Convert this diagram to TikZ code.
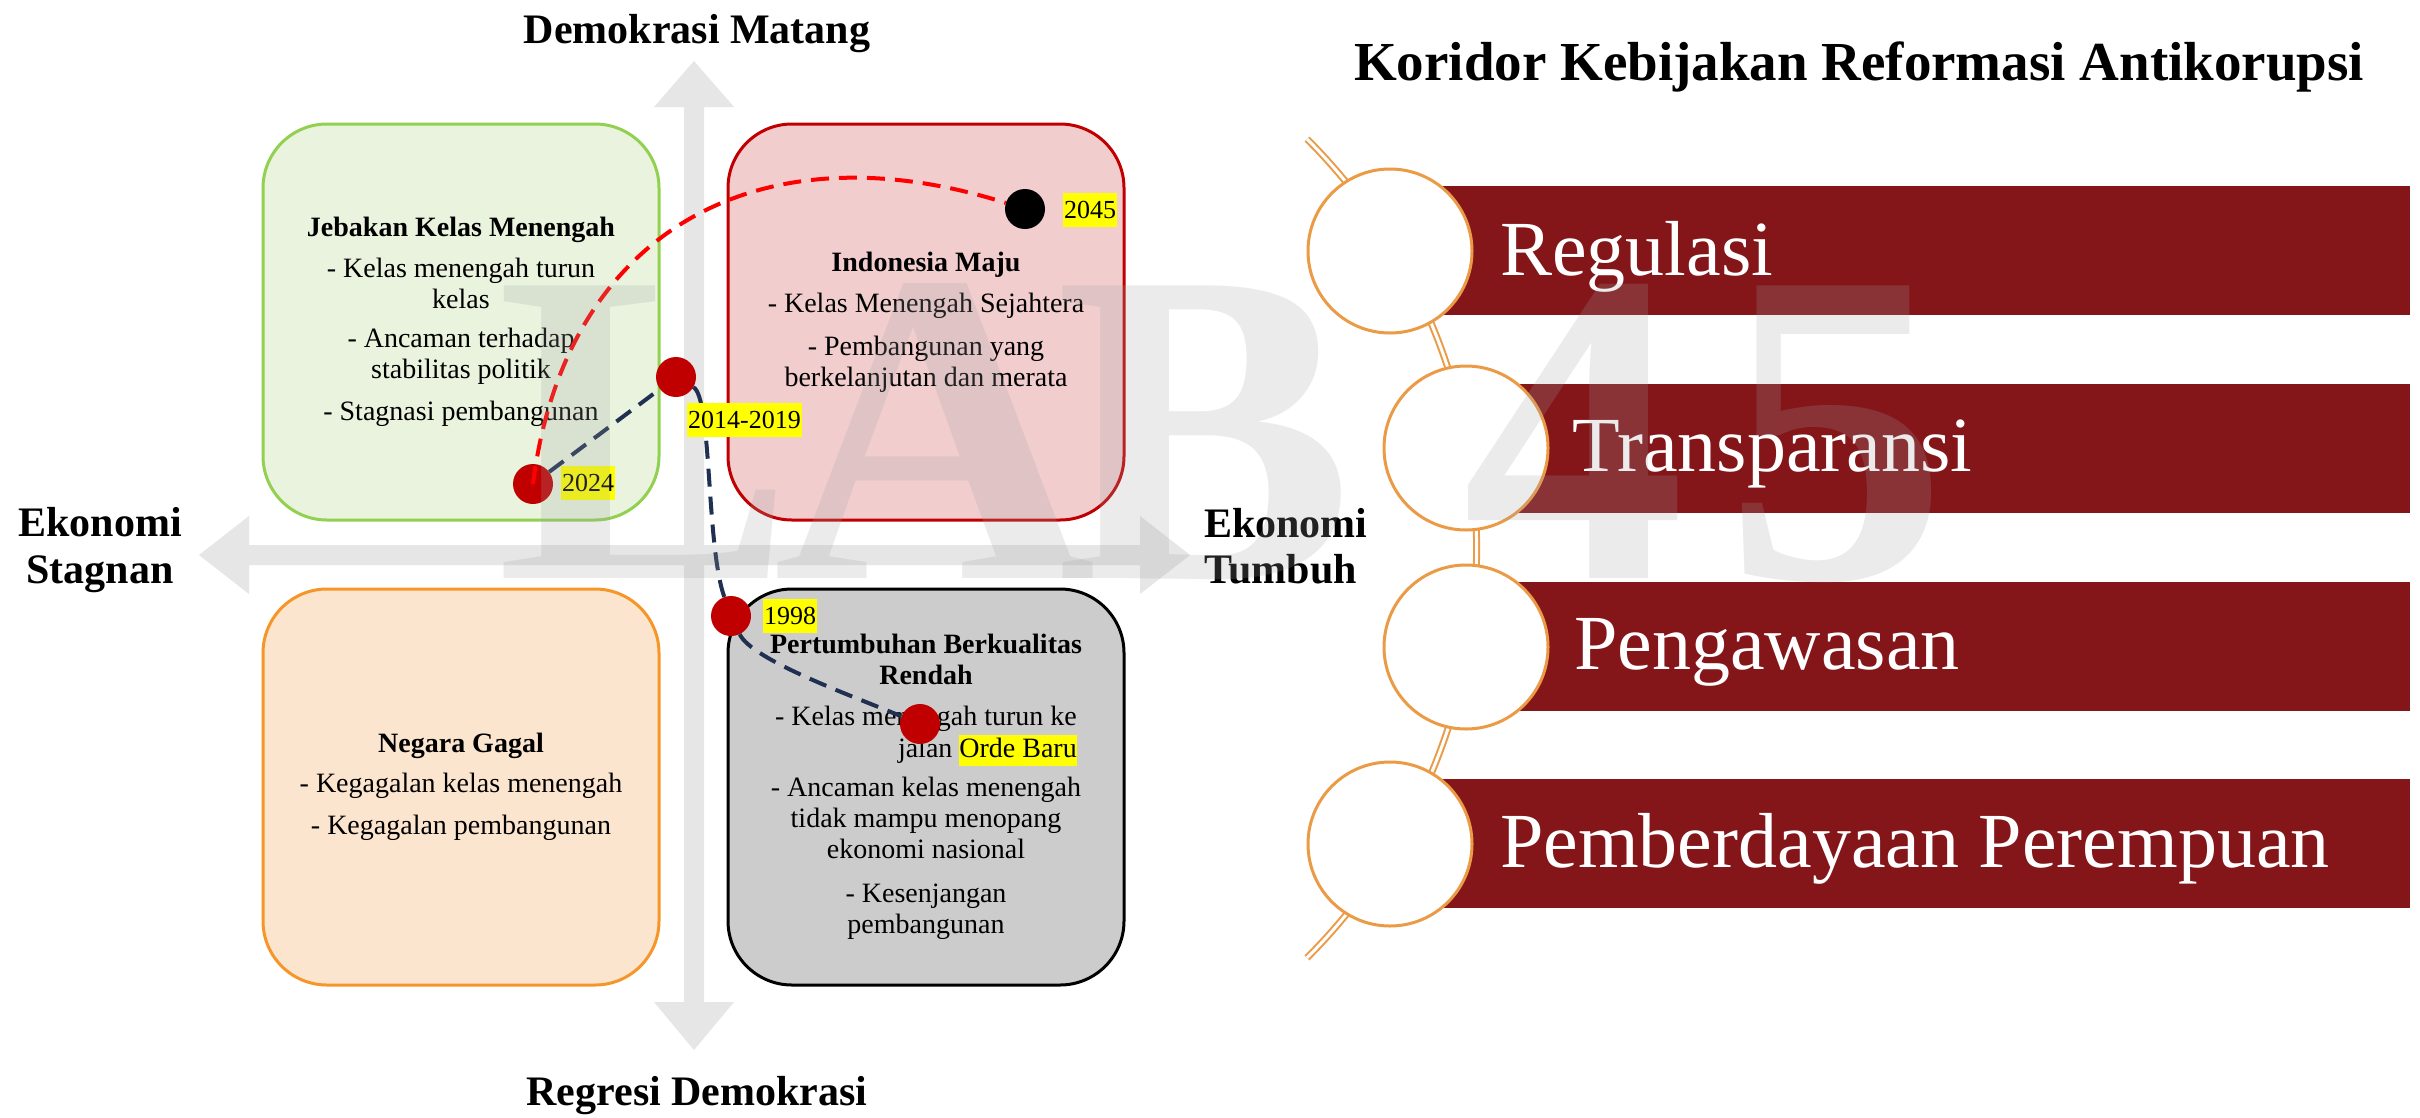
\documentclass[tikz,border=0pt]{standalone}
\usepackage{fontspec}
\setmainfont{Liberation Serif}
\definecolor{arrowgray}{RGB}{230,230,230}
\definecolor{greenF}{RGB}{233,243,222}
\definecolor{greenB}{RGB}{146,208,80}
\definecolor{redF}{RGB}{242,205,206}
\definecolor{redB}{RGB}{192,0,0}
\definecolor{orangeF}{RGB}{252,229,206}
\definecolor{orangeB}{RGB}{247,150,40}
\definecolor{grayF}{RGB}{204,204,204}
\definecolor{dotred}{RGB}{192,0,0}
\definecolor{navy}{RGB}{31,48,80}
\definecolor{dashred}{RGB}{255,0,0}
\definecolor{hlyellow}{RGB}{255,255,0}
\definecolor{barred}{RGB}{132,22,26}
\definecolor{ringorange}{RGB}{235,154,69}
\definecolor{wmgray}{RGB}{161,161,161}
\newcommand\myhl[1]{{\setlength\fboxsep{0pt}\colorbox{hlyellow}{\rule[-8pt]{0pt}{31pt}#1}}}
\begin{document}
\begin{tikzpicture}[x=1pt,y=-1pt,
  qbox/.style={rounded corners=64pt, minimum width=396pt, minimum height=396pt, line width=3pt, align=center, inner sep=0pt, font=\fontsize{28}{31}\selectfont},
  dot/.style={circle, minimum size=40pt, inner sep=0pt, draw=none},
  yl/.style={fill=hlyellow, inner xsep=1pt, inner ysep=0pt, minimum height=34pt, font=\fontsize{26}{28}\selectfont, anchor=west},
  navyline/.style={draw=navy, line width=4pt, dash pattern=on 18pt off 10pt},
  redline/.style={draw=dashred, line width=4pt, dash pattern=on 18pt off 10pt},
  axlabel/.style={font=\bfseries\fontsize{42}{48}\selectfont, inner sep=0pt},
  bar/.style={fill=barred, draw=none, inner sep=0pt, minimum height=129pt, anchor=west},
  ring/.style={circle, minimum size=164pt, fill=white, draw=ringorange, line width=3pt, inner sep=0pt},
  ringline/.style={draw=ringorange, line width=2pt, double=white, double distance=3pt},
  bartext/.style={font=\fontsize{78}{90}\selectfont, text=white, anchor=base west, inner sep=0pt},
  wm/.style={font=\bfseries\fontsize{447}{450}\selectfont, text=wmgray, text opacity=0.21, anchor=base, inner sep=0pt}
]
\useasboundingbox (0,0) rectangle (2420,1117);
\fill[white] (0,0) rectangle (2420,1117);

% axes
\fill[arrowgray] (684,107) -- (654,107) -- (694,61) -- (734,107) -- (704,107) -- (704,1002) -- (734,1002) -- (694,1050) -- (654,1002) -- (684,1002) -- cycle;
\fill[arrowgray] (249,545) -- (249,516) -- (199,555) -- (249,594) -- (249,565) -- (1140,565) -- (1140,594) -- (1190,555) -- (1140,516) -- (1140,545) -- cycle;

% quadrant boxes
\node[qbox, draw=greenB, fill=greenF] (jebakan) at (461,322) {\textbf{Jebakan Kelas Menengah}\\[10pt] - Kelas menengah turun\\ kelas\\[8pt] - Ancaman terhadap\\ stabilitas politik\\[11pt] - Stagnasi pembangunan};
\node[qbox, draw=redB, fill=redF] (maju) at (926,322) {\textbf{Indonesia Maju}\\[10pt] - Kelas Menengah Sejahtera\\[12pt] - Pembangunan yang\\ berkelanjutan dan merata};
\node[qbox, draw=orangeB, fill=orangeF] (gagal) at (461,787) {\textbf{Negara Gagal}\\[9pt] - Kegagalan kelas menengah\\[11pt] - Kegagalan pembangunan};
\node[qbox, draw=black, fill=grayF] (rendah) at (926,787) {\textbf{Pertumbuhan Berkualitas}\\ \textbf{Rendah}\\[10pt] \begin{tabular}[t]{@{}r@{}}- Kelas menengah turun ke\\ jalan \myhl{Orde Baru}\end{tabular}\\[9pt] - Ancaman kelas menengah\\ tidak mampu menopang\\ ekonomi nasional\\[13pt] - Kesenjangan\\ pembangunan};

% timeline dots
\node[dot, fill=dotred] (d2024) at (533,484) {};
\node[dot, fill=dotred] (d2014) at (676,377) {};
\node[dot, fill=dotred] (d1998) at (731,616) {};
\node[dot, fill=dotred] (dOB) at (920,724) {};
\node[dot, fill=black] (d2045) at (1025,209) {};

\draw[navyline] (d2024) -- (d2014);
\draw[navyline] (d2014) .. controls (712,398) and (706,545) .. (d1998);
\draw[navyline] (d1998) .. controls (752,660) and (850,695) .. (dOB);
\draw[redline] (d2024.center) .. controls (565,230) and (760,125) .. (d2045);

\node[yl] (l2024) at (561,483) {2024};
\node[yl] (l2014) at (687,420) {2014-2019};
\node[yl] (l2045) at (1063,210) {2045};
\node[yl] (l1998) at (763,616) {1998};

% axis labels
\node[axlabel, anchor=base] (top) at (697,43) {Demokrasi Matang};
\node[axlabel, anchor=base] (bottom) at (697,1105) {Regresi Demokrasi};
\node[axlabel, anchor=base] (left1) at (100,536) {Ekonomi};
\node[axlabel, anchor=base] (left2) at (100,583) {Stagnan};
\node[axlabel, anchor=base west] (right1) at (1204,537) {Ekonomi};
\node[axlabel, anchor=base west] (right2) at (1204,583) {Tumbuh};

% right panel
\node[font=\bfseries\fontsize{55}{60}\selectfont, anchor=base, inner sep=0pt] (title) at (1859,80) {Koridor Kebijakan Reformasi Antikorupsi};
\node[bar, minimum width=970pt] (b1) at (1440,250.5) {};
\node[bar, minimum width=895pt] (b2) at (1515,448.5) {};
\node[bar, minimum width=895pt] (b3) at (1515,646.5) {};
\node[bar, minimum width=970pt] (b4) at (1440,843.5) {};
\draw[ringline] (1307,139) arc[start angle=45, end angle=-45, radius=579pt];
\node[ring] (c1) at (1390,251) {};
\node[ring] (c2) at (1466,448) {};
\node[ring] (c3) at (1466,647) {};
\node[ring] (c4) at (1390,844) {};
\node[bartext] (t1) at (1500,275) {Regulasi};
\node[bartext] (t2) at (1572,471) {Transparansi};
\node[bartext] (t3) at (1574,669) {Pengawasan};
\node[bartext] (t4) at (1500,867) {Pemberdayaan Perempuan};

% watermark
\node[wm] (wmL) at (646,578) {L};
\node[wm] (wmA) at (935,578) {A};
\node[wm] (wmB) at (1205,578) {B};
\node[wm] (wm4) at (1574,578) {4};
\node[wm] (wm5) at (1836,578) {5};
\end{tikzpicture}
\end{document}
